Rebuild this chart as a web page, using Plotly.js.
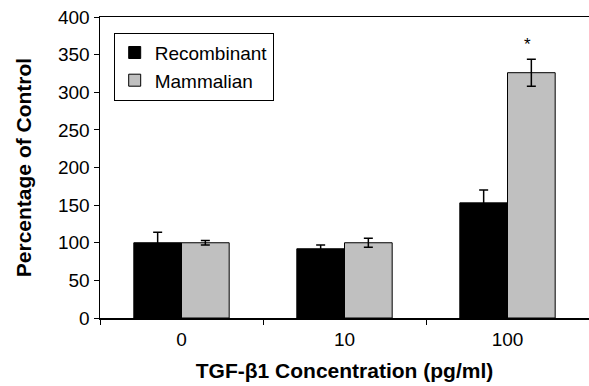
<!DOCTYPE html>
<html>
<head>
<meta charset="utf-8">
<script src="https://cdn.plot.ly/plotly-3.0.1.min.js"></script>
<style>html,body{margin:0;padding:0;background:#fff;}#chart{width:589px;height:386px;}</style>
</head>
<body>
<div id="chart"></div>
<script>
var categories = ['0', '10', '100'];
var recombinant = [100, 92, 153];
var recombinantErr = [14, 5, 17];
var mammalian = [100, 100, 326];
var mammalianErr = [3, 6, 18];
var seriesNames = ['Recombinant', 'Mammalian'];
var markText = '*';
var markCategory = '100';
var markY = 363;

var font = 'Liberation Sans, Arial, sans-serif';

var traces = [
  {
    type: 'bar', name: seriesNames[0], x: categories, y: recombinant,
    marker: {color: '#000000', line: {color: '#000000', width: 1}},
    error_y: {type: 'data', array: recombinantErr, visible: true, color: '#000000', thickness: 1.5, width: 4.5}
  },
  {
    type: 'bar', name: seriesNames[1], x: categories, y: mammalian,
    marker: {color: '#c0c0c0', line: {color: '#000000', width: 1}},
    error_y: {type: 'data', array: mammalianErr, visible: true, color: '#000000', thickness: 1.5, width: 4.5}
  }
];

var layout = {
  width: 589, height: 386,
  margin: {l: 100, r: 0, t: 17, b: 68},
  paper_bgcolor: '#ffffff', plot_bgcolor: '#ffffff',
  font: {family: font, size: 19, color: '#000000'},
  barmode: 'group', bargap: 0.415, bargroupgap: 0,
  showlegend: true,
  legend: {
    x: 0.028, y: 0.948, xanchor: 'left', yanchor: 'top',
    bordercolor: '#000000', borderwidth: 1, bgcolor: '#ffffff',
    font: {family: font, size: 19, color: '#000000'},
    tracegroupgap: 0
  },
  xaxis: {
    type: 'category', range: [-0.5, 2.5],
    showline: true, linecolor: '#000000', linewidth: 1.5, mirror: true,
    ticks: 'outside', tickson: 'boundaries', ticklen: 5, tickcolor: '#000000', tickwidth: 1,
    ticklabelstandoff: 4,
    showgrid: false, zeroline: false,
    tickfont: {family: font, size: 19, color: '#000000'},
    title: {text: 'TGF-β1 Concentration (pg/ml)', font: {family: font, size: 21, color: '#000000', weight: 'bold'}, standoff: 14}
  },
  yaxis: {
    range: [0, 400], dtick: 50,
    showline: true, linecolor: '#000000', linewidth: 1.5,
    ticks: 'outside', ticklen: 5, tickcolor: '#000000', tickwidth: 1,
    showgrid: false, zeroline: false,
    tickfont: {family: font, size: 19, color: '#000000'},
    title: {text: 'Percentage of Control', font: {family: font, size: 21, color: '#000000', weight: 'bold'}, standoff: 20}
  },
  annotations: [{
    x: categories.indexOf(markCategory), y: markY, xref: 'x', yref: 'y', xshift: 20,
    text: markText, showarrow: false,
    font: {family: font, size: 17, color: '#000000'}
  }]
};

Plotly.newPlot('chart', traces, layout, {displayModeBar: false, staticPlot: true});
</script>
</body>
</html>
